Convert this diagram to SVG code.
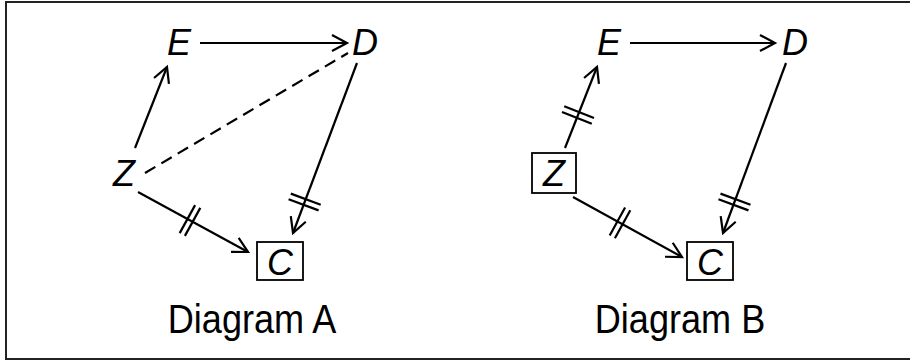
<svg xmlns="http://www.w3.org/2000/svg" width="910" height="360" viewBox="0 0 910 360">
<defs>
<style>
.n{font-family:"Liberation Sans",Arial,sans-serif;font-style:italic;font-size:36px;fill:#000;text-anchor:middle}
.lab{font-family:"Liberation Sans",Arial,sans-serif;font-size:41px;fill:#000;text-anchor:middle}
.box{fill:none;stroke:#000;stroke-width:1.8}
.e{stroke:#000;stroke-width:2.2;fill:none}
.a{marker-end:url(#ah)}
.d{stroke-dasharray:12 7}
</style>
<marker id="ah" markerUnits="userSpaceOnUse" markerWidth="20" markerHeight="20" viewBox="-16 -10 20 20" refX="0" refY="0" orient="auto">
<path d="M-15,-8 L0,0 L-15,8" fill="none" stroke="#000" stroke-width="2.2"/>
</marker>
</defs>
<rect x="6" y="2" width="910" height="357" fill="#fff" stroke="#222" stroke-width="2"/>
<g id="A-E"><text class="n" x="179" y="55">E</text></g>
<g id="A-D"><text class="n" x="365" y="55">D</text></g>
<g id="A-Z"><text class="n" x="124" y="186">Z</text></g>
<g id="A-C"><rect class="box" x="257" y="242" width="46" height="38"/><text class="n" x="280" y="275">C</text></g>
<g id="B-E"><text class="n" x="609" y="55">E</text></g>
<g id="B-D"><text class="n" x="795" y="55">D</text></g>
<g id="B-Z"><rect class="box" x="532" y="153" width="44" height="40"/><text class="n" x="554" y="186">Z</text></g>
<g id="B-C"><rect class="box" x="687" y="242" width="46" height="38"/><text class="n" x="710" y="275">C</text></g>
<g id="connectors">
<line class="e a" x1="200" y1="43" x2="347" y2="43"/>
<line class="e a" x1="135" y1="148" x2="167" y2="67"/>
<line class="e d" x1="145" y1="173" x2="348" y2="53"/>
<line class="e a" x1="138" y1="192" x2="248" y2="252"/>
<line class="e" x1="195.1" y1="205.1" x2="179.7" y2="233.1"/>
<line class="e" x1="200.3" y1="207.9" x2="184.9" y2="235.9"/>
<line class="e a" x1="357" y1="63" x2="293" y2="233"/>
<line class="e" x1="290.8" y1="193.6" x2="320.7" y2="204.8"/>
<line class="e" x1="288.6" y1="199.2" x2="318.6" y2="210.4"/>
<line class="e a" x1="630" y1="43" x2="775" y2="43"/>
<line class="e a" x1="565" y1="148" x2="597" y2="67"/>
<line class="e" x1="562" y1="111.9" x2="591.8" y2="123.7"/>
<line class="e" x1="564.2" y1="106.3" x2="594" y2="118.1"/>
<line class="e a" x1="573" y1="197" x2="682" y2="257"/>
<line class="e" x1="625.1" y1="207.5" x2="609.7" y2="235.5"/>
<line class="e" x1="630.3" y1="210.3" x2="614.9" y2="238.3"/>
<line class="e a" x1="786" y1="63" x2="723" y2="233"/>
<line class="e" x1="720.5" y1="193.6" x2="750.5" y2="204.8"/>
<line class="e" x1="718.5" y1="199.2" x2="748.5" y2="210.4"/>
</g>
<g id="labels">
<text class="lab" transform="translate(252,333) scale(0.88,1)">Diagram A</text>
<text class="lab" transform="translate(680,333) scale(0.88,1)">Diagram B</text>
</g>
</svg>
